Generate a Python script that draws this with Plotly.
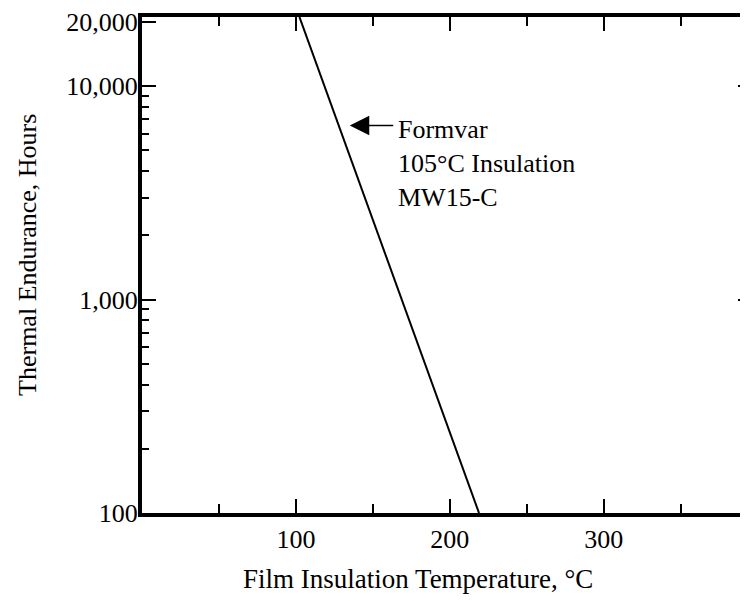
import plotly.graph_objects as go

# Data
temp_c = [102.3, 219.0]          # Film insulation temperature, °C
hours = [21100, 100]             # Thermal endurance, hours

x_tickvals = [100, 200, 300]
x_minor = [50, 150, 250, 350]
y_tickvals = [100, 1000, 10000, 20000]
y_ticktext = ["100", "1,000", "10,000", "20,000"]
y_minor = [200, 300, 400, 500, 600, 700, 800, 900,
           2000, 3000, 4000, 5000, 6000, 7000, 8000, 9000]

FONT = "Liberation Serif"
FS = 26

fig = go.Figure()
fig.add_trace(go.Scatter(x=temp_c, y=hours, mode="lines",
                         line=dict(color="black", width=2),
                         showlegend=False, hoverinfo="skip"))
# invisible trace so the right-hand axis is drawn
fig.add_trace(go.Scatter(x=temp_c, y=hours, mode="lines", yaxis="y2",
                         line=dict(color="rgba(0,0,0,0)", width=0),
                         showlegend=False, hoverinfo="skip"))

fig.update_layout(
    width=740, height=593,
    margin=dict(l=134, r=0, t=5, b=88),
    paper_bgcolor="white", plot_bgcolor="white",
    font=dict(family=FONT, size=FS, color="black"),
    xaxis=dict(range=[0, 393.8], tickmode="array", tickvals=x_tickvals,
               ticks="inside", ticklen=14, tickwidth=2, tickcolor="black",
               showline=True, linewidth=4, linecolor="black", mirror="ticks",
               showgrid=False, zeroline=False,
               minor=dict(tickmode="array", tickvals=x_minor, ticks="inside",
                          ticklen=9, tickwidth=2, tickcolor="black", showgrid=False),
               tickfont=dict(family=FONT, size=FS, color="black")),
    yaxis=dict(type="log", range=[2, 4.324], tickmode="array",
               tickvals=y_tickvals, ticktext=y_ticktext,
               ticks="inside", ticklen=14, tickwidth=2, tickcolor="black",
               showline=True, linewidth=4, linecolor="black", mirror=False,
               showgrid=False, zeroline=False, ticklabelstandoff=-5,
               ticklabeloverflow="allow",
               minor=dict(tickmode="array", tickvals=y_minor, ticks="inside",
                          ticklen=7, tickwidth=1.5, tickcolor="black", showgrid=False),
               tickfont=dict(family=FONT, size=FS, color="black")),
    yaxis2=dict(type="log", range=[2, 4.324], overlaying="y", side="right",
                anchor="x", tickmode="array", tickvals=[100, 1000, 10000],
                showticklabels=False, ticks="inside", ticklen=10, tickwidth=2,
                tickcolor="black", showline=False, showgrid=False, zeroline=False,
                minor=dict(tickmode="array", tickvals=y_minor, ticks="inside",
                           ticklen=3, tickwidth=1.5, tickcolor="black", showgrid=False)),
)

# Arrow pointing at the line
fig.add_annotation(x=135.0, y=3.816, xref="x", yref="y", text="",
                   showarrow=True, ax=45, ay=0, arrowhead=2, arrowsize=2.6,
                   arrowwidth=1.5, arrowcolor="black")
# Label
fig.add_annotation(x=165.0, y=3.876, xref="x", yref="y",
                   text="Formvar<br>105°C Insulation<br>MW15-C",
                   showarrow=False, xanchor="left", yanchor="top", align="left",
                   font=dict(family=FONT, size=FS, color="black"))
# Axis titles
fig.add_annotation(x=0.455, y=-0.134, xref="paper", yref="paper",
                   text="Film Insulation Temperature, °C", showarrow=False,
                   xanchor="center", yanchor="middle",
                   font=dict(family=FONT, size=27, color="black"))
fig.add_annotation(x=-0.19, y=0.52, xref="paper", yref="paper",
                   text="Thermal Endurance, Hours", showarrow=False, textangle=-90,
                   xanchor="center", yanchor="middle",
                   font=dict(family=FONT, size=FS, color="black"))

fig.write_html("out.html")
